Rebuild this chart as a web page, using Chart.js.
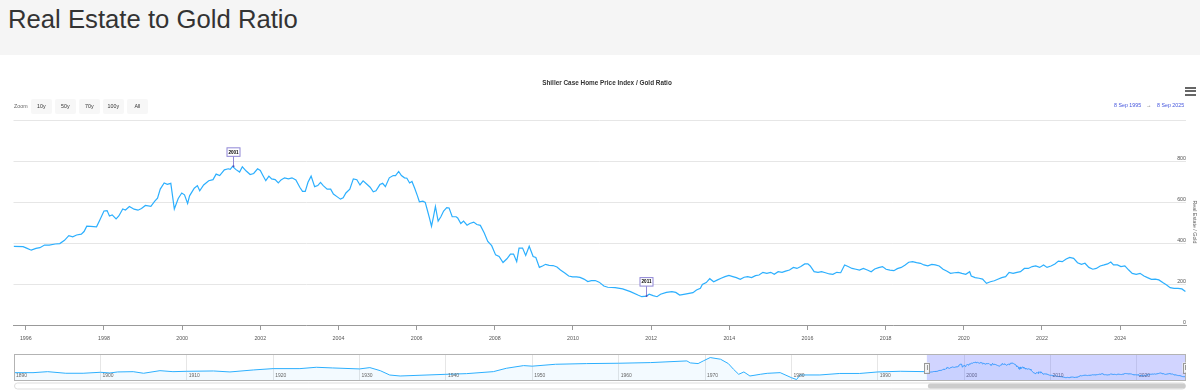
<!DOCTYPE html>
<html><head><meta charset="utf-8">
<script src="https://cdn.jsdelivr.net/npm/chart.js@4/dist/chart.umd.min.js"></script>
<style>
html,body{margin:0;padding:0;background:#fff;width:1200px;height:391px;overflow:hidden;font-family:"Liberation Sans",Arial,Helvetica,sans-serif;}
#hdr{position:absolute;left:0;top:0;width:1200px;height:55px;background:#f5f5f5;}
#hdr h1{position:absolute;left:8px;top:6px;margin:0;font-weight:normal;font-size:25.7px;line-height:26px;color:#333;white-space:nowrap;}
.abs{position:absolute;white-space:nowrap;}
#ctitle{left:407px;width:400px;top:79px;text-align:center;font-weight:bold;font-size:6.4px;line-height:8px;color:#333;}
.small{font-size:5.3px;line-height:6px;color:#666;}
.btn{position:absolute;top:98.5px;width:20.7px;height:15px;line-height:15px;background:#f7f7f7;text-align:center;font-size:5.3px;color:#333;border-radius:2px;}
.date{font-size:5.3px;line-height:6px;color:#4455dd;}
.bar{position:absolute;left:1185px;width:10.5px;height:2px;background:#666;}
#ytitle{left:1165px;top:219px;width:60px;height:6px;text-align:center;transform:rotate(90deg);transform-origin:50% 50%;}
#mainWrap{position:absolute;left:0;top:0;width:1200px;height:350px;}
#navWrap{position:absolute;left:14px;top:354px;width:1172px;height:37px;}
</style></head>
<body>
<div id="hdr"><h1>Real Estate to Gold Ratio</h1></div>
<div id="mainWrap"><canvas id="main" width="1200" height="350"></canvas></div>
<div id="navWrap"><canvas id="nav" width="1172" height="37"></canvas></div>
<div class="abs" id="ctitle">Shiller Case Home Price Index / Gold Ratio</div>
<div class="abs small" style="left:14px;top:103px;">Zoom</div>
<div class="btn" style="left:31px;">10y</div>
<div class="btn" style="left:55px;">50y</div>
<div class="btn" style="left:79px;">70y</div>
<div class="btn" style="left:103px;">100y</div>
<div class="btn" style="left:127px;">All</div>
<div class="abs date" style="left:1114px;top:102px;">8 Sep 1995</div>
<div class="abs date" style="left:1146px;top:102px;color:#666;">→</div>
<div class="abs date" style="left:1157px;top:102px;">8 Sep 2025</div>
<div class="bar" style="top:86.5px"></div>
<div class="bar" style="top:90px"></div>
<div class="bar" style="top:93.5px"></div>
<div class="abs small" id="ytitle">Real Estate / Gold</div>
<script>
// ---- data ----
const years = [1995.69,1995.93,1996.02,1996.14,1996.26,1996.36,1996.48,1996.60,1996.75,1996.87,
1996.99,1997.10,1997.20,1997.30,1997.42,1997.49,1997.56,1997.66,1997.81,1997.90,
1998.00,1998.08,1998.14,1998.21,1998.31,1998.38,1998.48,1998.55,1998.65,1998.77,
1998.87,1998.96,1999.06,1999.20,1999.30,1999.37,1999.44,1999.54,1999.62,1999.71,
1999.80,1999.90,1999.99,2000.06,2000.14,2000.19,2000.31,2000.39,2000.45,2000.55,
2000.68,2000.79,2000.87,2000.96,2001.08,2001.18,2001.23,2001.29,2001.37,2001.47,
2001.54,2001.64,2001.74,2001.83,2001.93,2002.00,2002.06,2002.14,2002.22,2002.29,
2002.38,2002.46,2002.53,2002.62,2002.72,2002.81,2002.91,2003.01,2003.08,2003.15,
2003.22,2003.30,2003.39,2003.47,2003.54,2003.61,2003.71,2003.80,2003.87,2003.97,
2004.05,2004.12,2004.19,2004.29,2004.38,2004.47,2004.55,2004.63,2004.72,2004.81,
2004.89,2004.96,2005.06,2005.13,2005.20,2005.30,2005.40,2005.46,2005.54,2005.61,
2005.69,2005.75,2005.82,2005.88,2005.95,2006.02,2006.07,2006.16,2006.22,2006.28,
2006.33,2006.38,2006.43,2006.48,2006.55,2006.62,2006.69,2006.77,2006.83,2006.91,
2007.01,2007.05,2007.13,2007.20,2007.29,2007.36,2007.46,2007.54,2007.63,2007.73,
2007.82,2007.92,2008.02,2008.11,2008.21,2008.31,2008.40,2008.48,2008.56,2008.62,
2008.71,2008.79,2008.88,2008.98,2009.05,2009.14,2009.22,2009.30,2009.39,2009.49,
2009.59,2009.68,2009.80,2009.89,2009.99,2010.09,2010.18,2010.28,2010.38,2010.47,
2010.57,2010.67,
2010.79,2010.89,2011.08,2011.27,2011.47,2011.66,2011.76,2011.88,2011.95,2012.05,
2012.15,2012.24,2012.39,2012.53,2012.63,2012.73,2012.87,2013.07,2013.16,2013.26,
2013.31,2013.41,2013.50,2013.60,2013.70,2013.79,2013.89,2013.99,2014.09,2014.18,
2014.28,2014.38,2014.47,2014.57,2014.67,2014.76,2014.86,2014.96,2015.06,2015.15,
2015.25,2015.35,2015.44,2015.54,2015.64,2015.73,2015.83,2015.93,2016.01,2016.07,
2016.17,2016.27,2016.36,2016.46,2016.56,2016.65,2016.75,2016.85,2016.95,2017.04,
2017.14,2017.24,2017.33,2017.43,2017.53,2017.63,2017.72,2017.82,2017.92,2018.01,
2018.11,2018.21,2018.30,2018.40,2018.50,2018.59,2018.69,2018.79,2018.89,2018.98,
2019.08,2019.18,2019.27,2019.37,2019.47,2019.56,2019.66,2019.76,2019.86,2019.95,
2020.05,2020.15,2020.19,2020.29,2020.39,2020.48,2020.58,2020.68,2020.78,2020.87,
2020.97,2021.07,2021.16,2021.26,2021.36,2021.45,2021.55,2021.65,2021.75,2021.84,
2021.94,2022.04,2022.13,2022.23,2022.33,2022.42,2022.52,2022.62,2022.71,2022.81,
2022.91,2023.01,2023.10,2023.20,2023.30,2023.39,2023.49,2023.59,2023.68,2023.76,
2023.83,2023.93,2024.02,2024.12,2024.22,2024.31,2024.41,2024.51,2024.61,2024.70,
2024.80,2024.90,2024.99,2025.09,2025.19,2025.28,2025.38,2025.48,2025.58,2025.67];

const ratio = [384,382,375,365,374,377,390,390,395,397,
413,436,430,439,443,456,482,481,479,515,
556,558,532,537,518,532,566,561,578,565,
560,568,583,579,604,619,663,693,686,691,
566,617,644,635,593,630,667,680,655,683,
704,709,736,729,757,762,759,774,759,746,
772,751,734,739,762,754,732,704,726,713,
709,693,708,718,713,718,708,672,652,652,
696,726,675,680,696,680,663,663,639,625,
614,621,644,663,713,709,683,703,688,672,
650,655,685,691,675,718,729,729,749,729,
718,716,693,700,667,630,601,604,598,556,
520,482,528,578,507,528,556,573,571,528,
528,522,495,507,487,495,502,490,486,449,
408,387,342,334,305,323,346,346,309,375,
375,339,384,334,329,281,288,296,291,290,
283,268,252,239,235,235,232,224,212,216,
217,209,
190,184,182,176,163,146,138,141,150,143,
138,150,159,163,159,146,151,158,171,179,
198,207,226,211,220,228,236,242,236,231,
223,233,236,231,241,244,257,252,257,247,
260,257,263,268,281,276,285,298,298,288,
260,257,260,255,249,247,257,255,293,285,
276,272,268,276,268,260,273,280,285,272,
268,265,275,281,293,306,309,304,301,293,
289,296,293,288,272,263,252,255,257,252,
247,260,239,231,228,224,203,211,216,223,
231,236,257,252,257,260,276,276,285,288,
281,293,281,288,298,312,309,322,330,325,
304,296,301,281,272,276,288,293,298,307,
293,293,285,288,268,252,247,252,239,231,
223,224,220,207,195,182,179,179,176,163];

// long history shown only in the navigator
const histYears = [1890,1892.2,1893.9,1896,1898,1900,1901.1,1902,1903.8,1905,
1906.9,1908.4,1910,1913.1,1915,1917.7,1920,1923.1,1925,1926.9,
1930,1931.2,1932.4,1933.5,1934.7,1940,1942.4,1945.5,1947,1949,
1950,1952.7,1956.3,1960,1963.7,1967.9,1968.3,1969.2,1969.8,1970.6,
1971.8,1972.7,1973.3,1973.9,1974.5,1975.2,1976.4,1977.2,1978.7,1980,
1980.6,1981,1983.3,1985.6,1987.9,1990,1992.6];
const histRatio = [343,343,384,318,318,359,330,372,384,318,
425,384,399,413,372,454,509,509,564,537,
496,551,425,246,206,275,303,385,523,633,
610,688,716,730,757,826,744,716,826,964,
895,716,482,275,372,206,275,316,344,138,
60,248,248,310,310,372,400];

const tickYears = [1996,1998,2000,2002,2004,2006,2008,2010,2012,2014,2016,2018,2020,2022,2024];
const yTicks = [0,200,400,600,800,1000];
const navTicks = [1890,1900,1910,1920,1930,1940,1950,1960,1970,1980,1990,2000,2010,2020];
const flagYears = [2001.29, 2011.88];
const flagTitles = ['2001', '2011'];
const rangeStart = 1995.685, rangeEnd = 2025.685;
const navStart = 1890;

const FONT = '"Liberation Sans", Arial, sans-serif';
const LINE = '#2caffe';

const flagPlugin = {
  id: 'flags',
  afterDatasetsDraw(chart) {
    const {ctx, scales: {x, y}} = chart;
    flagYears.forEach((fy, i) => {
      let best = 0;
      years.forEach((v, j) => { if (Math.abs(v - fy) < Math.abs(years[best] - fy)) best = j; });
      const px = Math.round(x.getPixelForValue(years[best])) + 0.5;
      const py = y.getPixelForValue(ratio[best]);
      ctx.save();
      ctx.strokeStyle = '#8f86d6';
      ctx.lineWidth = 1;
      ctx.beginPath(); ctx.moveTo(px, py); ctx.lineTo(px, py - 10); ctx.stroke();
      const bx = px - 6.5, by = py - 18.5;
      ctx.fillStyle = '#fff';
      ctx.fillRect(bx, by, 13, 8.5);
      ctx.strokeRect(bx, by, 13, 8.5);
      ctx.fillStyle = '#000';
      ctx.font = 'bold 4.6px ' + FONT;
      ctx.textAlign = 'center'; ctx.textBaseline = 'middle';
      ctx.fillText(flagTitles[i], px, by + 4.5);
      ctx.fillStyle = '#5a50b0';
      ctx.beginPath(); ctx.arc(px, py, 1, 0, Math.PI * 2); ctx.fill();
      ctx.restore();
    });
  }
};

new Chart(document.getElementById('main'), {
  type: 'line',
  data: { datasets: [{ data: years.map((v, i) => ({x: v, y: ratio[i]})), borderColor: LINE, borderWidth: 1.2,
    pointRadius: 0, tension: 0, fill: false }] },
  options: {
    responsive: false, animation: false, events: [],
    layout: { padding: { left: 13.5, right: 14, top: 120, bottom: 0 } },
    plugins: { legend: { display: false }, tooltip: { enabled: false }, title: { display: false } },
    scales: {
      x: {
        type: 'linear', min: rangeStart, max: rangeEnd,
        afterBuildTicks: s => { s.ticks = tickYears.map(v => ({value: v})); },
        afterFit: s => { s.height = 25; },
        grid: { drawOnChartArea: false, drawTicks: true, tickLength: 5, color: '#999' },
        border: { color: '#999' },
        ticks: { autoSkip: false, maxRotation: 0, padding: 5.5, color: '#555', font: { size: 5.3, family: FONT },
          callback: v => String(v) }
      },
      y: {
        position: 'right', min: 0, max: 1000,
        afterBuildTicks: s => { s.ticks = yTicks.map(v => ({value: v})); },
        afterFit: s => { s.width = 0; },
        grid: { color: '#e6e6e6', drawTicks: false },
        border: { display: false },
        ticks: { mirror: true, padding: 0, labelOffset: -2.5, color: '#555', font: { size: 5.3, family: FONT },
          callback: v => v === 1000 ? '' : String(v) }
      }
    }
  },
  plugins: [flagPlugin]
});

const navPlugin = {
  id: 'navExtras',
  afterDraw(chart) {
    const {ctx, chartArea: a, scales: {x}} = chart;
    const x0 = x.getPixelForValue(rangeStart), x1 = x.getPixelForValue(rangeEnd);
    ctx.save();
    // decade labels inside the navigator, placed with the x scale
    ctx.fillStyle = '#666';
    ctx.font = '5px ' + FONT;
    ctx.textAlign = 'left'; ctx.textBaseline = 'middle';
    navTicks.forEach(v => {
      const px = x.getPixelForValue(v);
      if (px < a.right - 12) ctx.fillText(String(v), px + 2, a.bottom - 5);
    });
    ctx.fillStyle = 'rgba(90,100,255,0.28)';
    ctx.fillRect(x0, a.top, x1 - x0, a.bottom - a.top);
    ctx.strokeStyle = '#b3b3b3'; ctx.lineWidth = 1;
    ctx.strokeRect(a.left + 0.5, a.top + 0.5, a.right - a.left - 1, a.bottom - a.top - 1);
    // handles
    [x0, x1 - 1].forEach(hx => {
      const cy = (a.top + a.bottom) / 2;
      ctx.fillStyle = '#f2f2f2'; ctx.strokeStyle = '#999';
      ctx.fillRect(hx - 2.5, cy - 5, 5, 10);
      ctx.strokeRect(Math.round(hx - 2.5) + 0.5, Math.round(cy - 5) + 0.5, 5, 10);
      ctx.beginPath(); ctx.moveTo(Math.round(hx) + 0.5, cy - 2.5); ctx.lineTo(Math.round(hx) + 0.5, cy + 2.5); ctx.stroke();
    });
    // scrollbar
    const sy = a.bottom + 1.5, sh = 6;
    ctx.fillStyle = '#fff'; ctx.strokeStyle = '#ddd';
    ctx.beginPath(); ctx.roundRect(a.left + 0.5, sy + 0.5, a.right - a.left - 1, sh, 3); ctx.fill(); ctx.stroke();
    ctx.fillStyle = '#cccccc';
    ctx.beginPath(); ctx.roundRect(x0 + 1, sy + 1, x1 - x0 - 1.5, sh - 1, 3); ctx.fill();
    ctx.restore();
  }
};

const navData = histYears.map((v, i) => ({x: v, y: histRatio[i]}))
  .concat(years.map((v, i) => ({x: v, y: ratio[i]})));

new Chart(document.getElementById('nav'), {
  type: 'line',
  data: { datasets: [{ data: navData, borderColor: LINE, borderWidth: 1, pointRadius: 0, tension: 0,
    fill: 'origin', backgroundColor: 'rgba(44,175,254,0.06)' }] },
  options: {
    responsive: false, animation: false, events: [],
    layout: { padding: { left: 0, right: 0, top: 0, bottom: 10 } },
    plugins: { legend: { display: false }, tooltip: { enabled: false } },
    scales: {
      x: {
        type: 'linear', min: navStart, max: rangeEnd,
        afterBuildTicks: s => { s.ticks = navTicks.map(v => ({value: v})); },
        afterFit: s => { s.height = 0; },
        grid: { color: '#e6e6e6', drawTicks: false },
        border: { display: false },
        ticks: { display: false }
      },
      y: { display: false, min: 0, max: 1110 }
    }
  },
  plugins: [navPlugin]
});
</script>
</body></html>
